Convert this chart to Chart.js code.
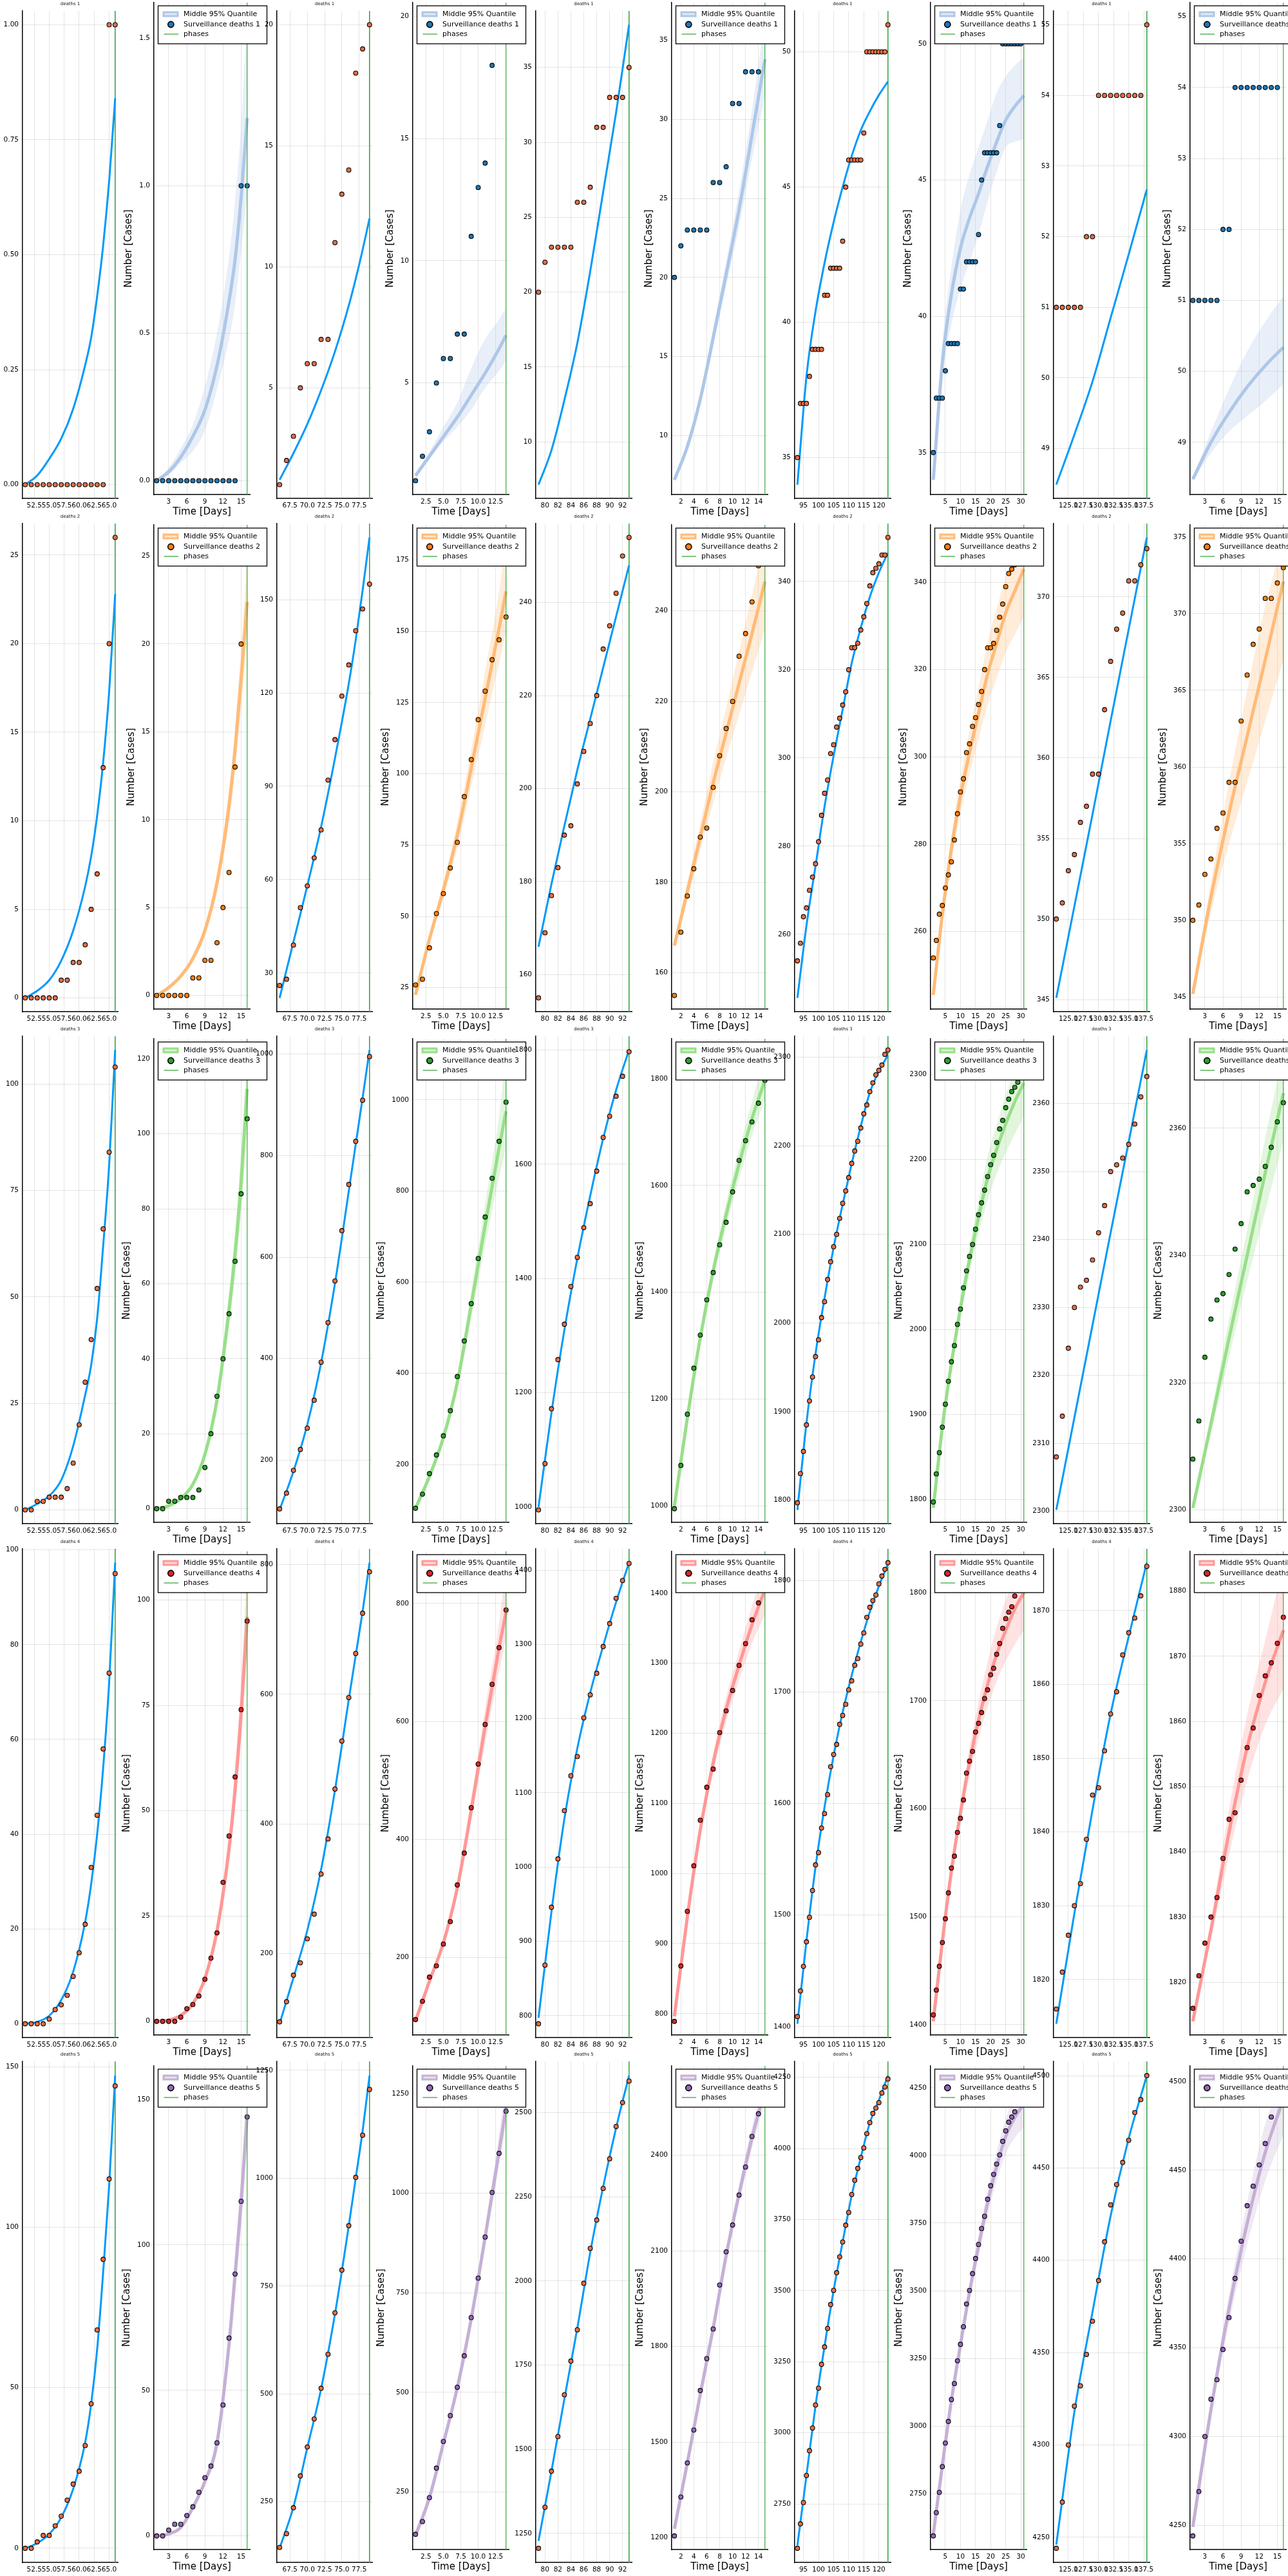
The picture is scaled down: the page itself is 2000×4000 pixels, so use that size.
<!DOCTYPE html>
<html>
<head>
<meta charset="utf-8">
<title>Surveillance deaths by phase</title>
<script src="https://cdn.jsdelivr.net/npm/chart.js@4.4.1/dist/chart.umd.min.js"></script>
<style>
  html, body { margin:0; padding:0; background:#ffffff; }
  body { position:relative; width:2000px; height:4000px; overflow:hidden; }
  canvas { position:absolute; }
</style>
</head>
<body>
<script>
// ================= DATA =================
const phaseFirstDay = [51, 66, 79, 93, 123];
const phaseLastDay  = [66, 79, 93, 123, 138];
const regionNames = ['deaths 1', 'deaths 2', 'deaths 3', 'deaths 4', 'deaths 5'];

// x positions (days) where the fitted curve of each phase was read
const fitX = [
  [51,53,55,57,59,61,62,63,64,65,66],
  [66,68,70,72,74,76,77,78,79],
  [79,81,83,85,87,89,91,93],
  [93,96,99,102,105,108,111,114,117,120,123],
  [123,126,129,132,135,138]
];
// x positions (phase days) where the median / 95% band was read
const medX = [
  [1,3,5,7,9,11,13,14,15,16],
  [1,3,5,7,9,11,13,14],
  [1,3,5,7,9,11,13,15],
  [1,4,7,10,13,16,19,22,25,28,31],
  [1,4,7,10,13,16]
];

// ---- deaths 1 ----
const obs1 = [
  [0,0,0,0,0,0,0,0,0,0,0,0,0,0,1,1],
  [1,2,3,5,6,6,7,7,11,13,14,18,19,20],
  [20,22,23,23,23,23,26,26,27,31,31,33,33,33,35],
  [35,37,37,37,38,39,39,39,39,41,41,42,42,42,42,43,45,46,46,46,46,46,47,50,50,50,50,50,50,50,51],
  [51,51,51,51,51,52,52,54,54,54,54,54,54,54,54,55]
];
const fit1 = [
  [0,0.02,0.056,0.10,0.165,0.26,0.32,0.41,0.52,0.66,0.84],
  [1.2,2.3,3.5,4.9,6.5,8.4,9.5,10.7,12.0],
  [7.15,9.45,12.8,16.6,21.4,26.7,32.0,37.85],
  [34.0,38.0,40.4,42.2,43.7,45.0,46.15,47.1,47.8,48.4,48.9],
  [48.49,49.2,49.95,50.85,51.75,52.67]
];
const med1 = [
  [0,0.03,0.08,0.15,0.24,0.39,0.61,0.75,0.96,1.23],
  [1.2,2.0,2.8,3.6,4.5,5.4,6.4,6.95],
  [7.2,9.3,12.3,16.2,20.2,24.3,29.0,33.8],
  [34.0,38.3,40.8,42.5,43.6,44.5,45.5,46.4,47.2,47.7,48.1],
  [48.48,49.0,49.42,49.78,50.08,50.34]
];
const lo1 = [
  [0,0.02,0.06,0.10,0.17,0.31,0.48,0.6,0.78,0.97],
  [1.1,1.9,2.6,3.2,3.9,4.8,5.5,5.9],
  [7.15,9.1,11.9,15.6,19.4,23.2,27.5,31.5],
  [33.97,37.7,39.7,41.0,42.0,43.0,44.2,45.3,46.2,46.4,46.5],
  [48.46,48.85,49.15,49.37,49.58,49.82]
];
const hi1 = [
  [0,0.045,0.11,0.19,0.32,0.50,0.76,0.95,1.2,1.574],
  [1.3,2.2,3.2,4.2,5.6,6.8,7.6,8.1],
  [7.25,9.5,12.7,16.8,21.0,25.5,30.6,36.5],
  [34.1,39.0,41.8,43.9,45.2,46.2,47.2,48.2,48.8,49.2,49.5],
  [48.5,49.15,49.75,50.28,50.7,51.06]
];

// ---- deaths 2 ----
const obs2 = [
  [0,0,0,0,0,0,1,1,2,2,3,5,7,13,20,26],
  [26,28,39,51,58,67,76,92,105,119,129,140,147,155],
  [155,169,177,183,190,192,201,208,214,220,230,235,242,250,254],
  [254,258,264,266,270,273,276,281,287,292,295,301,303,307,309,312,315,320,325,325,326,329,332,335,339,342,343,344,346,346,350],
  [350,351,353,354,356,357,359,359,363,366,368,369,371,371,372,373]
];
const fit2 = [
  [0,0.4,1.0,2.1,3.8,6.3,8.0,10.3,13.3,17.3,22.8],
  [22,40,58,77,99,123,137,153,170],
  [166,179.5,192,204,215,226,237,248],
  [245.6,262,275.5,289,300.5,311,321.5,329.5,336.5,342,346.5],
  [345.1,350.8,356.5,362.3,368,373.7]
];
const med2 = [
  [0,0.45,1.1,2.1,3.7,6.4,10.8,14.0,18.0,22.4],
  [22.5,42,59.3,78.5,102,126.5,151,164],
  [166,178,190,202,213,224,235,246.5],
  [245.5,264,279,291,301,310,319,326,333,338,343],
  [345.2,351.5,357,362,367,372.1]
];
const lo2 = [
  [0,0.4,1.0,1.9,3.4,5.9,9.9,12.8,16.4,20.3],
  [22.3,40.5,56.5,74,95.5,117,139,150],
  [165.5,176,187,197.5,207.5,217,226.5,236],
  [245.4,262,276,287,296,304,312,318,324,328,332],
  [345.1,350.5,355,359,363,367]
];
const hi2 = [
  [0,0.5,1.2,2.3,4.0,7.0,11.8,15.3,19.8,25.0],
  [22.7,43.5,62,83,108.5,136,164,182.5],
  [166.5,180,193,206.5,218.5,231,243.5,256],
  [245.6,266,282,295,306,316,326,334,341,346,350],
  [345.3,352.5,359,365,370.5,374.9]
];

// ---- deaths 3 ----
const obs3 = [
  [0,0,2,2,3,3,3,5,11,20,30,40,52,66,84,104],
  [104,135,180,221,263,318,393,471,553,652,743,828,909,995],
  [995,1076,1172,1258,1320,1386,1437,1489,1531,1588,1647,1684,1719,1754,1797],
  [1797,1830,1855,1885,1912,1939,1962,1981,2006,2024,2049,2069,2086,2100,2118,2135,2149,2164,2180,2194,2205,2220,2236,2246,2261,2271,2280,2285,2291,2303,2308],
  [2308,2314,2324,2330,2333,2334,2337,2341,2345,2350,2351,2352,2354,2357,2361,2364]
];
const fit3 = [
  [0,1.4,3.3,7,15,27,34,45,62,81,108],
  [102,178,270,392,548,730,822,914,1008],
  [1000,1165,1310,1435,1545,1645,1730,1800],
  [1789,1887,1965,2028,2085,2134,2180,2222,2260,2284,2302],
  [2300.2,2313.8,2327.4,2341,2354.4,2367.9]
];
const med3 = [
  [0,0.8,2.7,6.5,14.5,29,53,68,87,112],
  [104,174,259,380,550,725,895,975],
  [1000,1165,1315,1440,1545,1640,1725,1797],
  [1790,1885,1960,2025,2082,2132,2178,2212,2242,2268,2290],
  [2300.3,2313.5,2327,2340,2353,2365.5]
];
const lo3 = [
  [0,0.7,2.4,5.9,13.2,26.5,48.5,62,79,102],
  [103,170,250,362,520,680,830,895],
  [998,1158,1303,1423,1523,1613,1693,1760],
  [1789,1880,1952,2013,2066,2112,2152,2183,2208,2230,2250],
  [2300.2,2312,2324,2336,2347,2358]
];
const hi3 = [
  [0,0.9,3.0,7.2,16,32,58,74.5,95.5,121.7],
  [105,178,268,398,580,772,965,1104],
  [1002,1172,1327,1457,1567,1667,1757,1849],
  [1791,1890,1968,2037,2098,2152,2204,2241,2276,2304,2326],
  [2300.4,2315,2330,2344,2358.5,2371.9]
];

// ---- deaths 4 ----
const obs4 = [
  [0,0,0,0,1,3,4,6,10,15,21,33,44,58,74,95],
  [95,126,167,186,223,261,323,377,454,528,595,663,725,789],
  [789,868,946,1011,1076,1123,1149,1201,1232,1261,1297,1328,1362,1386,1409],
  [1409,1432,1454,1476,1498,1522,1545,1556,1578,1591,1608,1633,1644,1653,1671,1679,1689,1702,1710,1724,1730,1743,1753,1767,1776,1782,1787,1797,1804,1810,1816],
  [1816,1821,1826,1830,1833,1839,1845,1846,1851,1856,1859,1864,1867,1869,1872,1876]
];
const fit4 = [
  [0,0.4,1.7,5,11,21.5,29.5,40,54,72,97.3],
  [92,163,236,330,452,592,660,728,803],
  [797,940,1065,1160,1235,1298,1357,1410],
  [1402.5,1477,1543,1597,1643,1682,1715,1745,1772,1795,1815],
  [1814,1829,1843,1856,1866.5,1876.5]
];
const med4 = [
  [0,0.3,1.4,4.2,10.2,21.5,41,55,73,96],
  [93,160,225,318,450,592,725,785],
  [796,938,1062,1158,1234,1297,1355,1405],
  [1403,1477,1542,1596,1643,1682,1715,1743,1765,1785,1800],
  [1814,1828,1843,1856,1866,1874]
];
const lo4 = [
  [0,0.25,1.2,3.8,9.3,19.6,37.5,50.5,67,87],
  [92,156,218,306,430,562,685,740],
  [794,932,1052,1144,1216,1276,1328,1370],
  [1403,1474,1536,1587,1630,1665,1694,1718,1737,1752,1765],
  [1814,1826.5,1839.5,1851,1859.5,1865]
];
const hi4 = [
  [0,0.35,1.6,4.7,11.2,23.6,45,60.5,81,108.3],
  [94,164,233,330,470,622,768,865],
  [798,944,1072,1172,1252,1318,1382,1440],
  [1404,1480,1548,1605,1656,1699,1736,1768,1793,1812,1825.6],
  [1814.1,1829.5,1846.5,1861,1872.5,1884]
];

// ---- deaths 5 ----
const obs5 = [
  [0,0,2,4,4,7,10,15,20,24,32,45,68,90,115,144],
  [144,176,236,310,377,442,513,592,688,787,890,1002,1100,1206],
  [1206,1328,1435,1538,1662,1762,1855,1993,2097,2181,2275,2363,2459,2530,2594],
  [2594,2680,2755,2850,2937,3017,3098,3157,3241,3302,3367,3451,3501,3563,3619,3671,3730,3775,3838,3888,3930,3968,4002,4052,4091,4123,4142,4161,4195,4216,4244],
  [4244,4269,4300,4321,4332,4349,4367,4389,4410,4430,4441,4453,4465,4480,4487,4500]
];
const fit5 = [
  [0,1.6,4.4,9.6,18.5,33,45,62,86,113,147.2],
  [142,238,375,512,685,890,1000,1110,1238],
  [1228,1435,1650,1860,2085,2280,2455,2610],
  [2604,2850,3095,3305,3500,3672,3835,3968,4090,4170,4256],
  [4246,4318,4372,4424,4466,4500]
];
const med5 = [
  [0,0.7,2.9,9.7,18.7,32,66,89.8,114.7,144.6],
  [141,236,372,512,685,890,1105,1215],
  [1228,1435,1650,1858,2085,2278,2455,2605],
  [2600,2855,3095,3300,3495,3665,3825,3960,4070,4140,4190],
  [4249,4315,4372,4420,4460,4490]
];
const lo5 = [
  [0,0.6,2.6,8.9,17.2,29.5,61,83,106,134],
  [140,232,364,500,668,866,1070,1170],
  [1226,1428,1638,1840,2062,2250,2420,2570],
  [2598,2845,3078,3276,3464,3627,3780,3905,4005,4065,4105],
  [4248.5,4311,4364,4408,4444,4470]
];
const hi5 = [
  [0,0.8,3.2,10.5,20.2,34.5,71,97,124,156.8],
  [142,240,380,524,702,915,1145,1285],
  [1230,1442,1662,1876,2108,2306,2490,2637],
  [2602,2865,3112,3324,3526,3703,3870,4015,4135,4215,4280],
  [4249.5,4319,4380,4432,4476,4501]
];

// tick spacing (tick labels) per panel, left to right
const yStep1 = [0.25, 0.5, 5, 5, 5, 5, 5, 5, 1, 1];
const yStep2 = [5, 5, 30, 25, 20, 20, 20, 20, 5, 5];
const yStep3 = [25, 20, 200, 200, 200, 200, 100, 100, 10, 20];
const yStep4 = [20, 25, 200, 200, 100, 100, 100, 100, 10, 10];
const yStep5 = [50, 50, 250, 250, 250, 300, 250, 250, 50, 50];
const xStepOdd  = [2.5, 2.5, 2, 5, 2.5];
const xStepEven = [3, 2.5, 2, 5, 3];

// ================= LAYOUT / STYLE =================
const plotLeft  = [35, 239, 430, 641, 832, 1043, 1234, 1445, 1636, 1848];
const plotRight = [183, 388, 578, 790, 981, 1192, 1383, 1594, 1785, 1997];
const oddTop = [17, 813, 1609, 2405, 3201], oddBottom = [774, 1571, 2366, 3164, 3979];
const evenTop = [4, 815, 1613, 2409, 3208], evenBottom = [768, 1567, 2364, 3160, 3959];

const FIT_COLOR = '#009af9', OBS_COLOR = '#e26f46', PHASE_ODD = '#3da44d', PHASE_EVEN = '#2ca02c';
const dotColor  = ['#1f77b4', '#ff7f0e', '#2ca02c', '#d62728', '#9467bd'];
const bandLine  = ['#aec7e8', '#ffbb78', '#98df8a', '#ff9896', '#c5b0d5'];
const bandFill  = ['rgba(174,199,232,0.28)', 'rgba(255,187,120,0.28)', 'rgba(152,223,138,0.28)',
                   'rgba(255,152,150,0.28)', 'rgba(197,176,213,0.28)'];

const obsAll = [obs1, obs2, obs3, obs4, obs5];
const fitAll = [fit1, fit2, fit3, fit4, fit5];
const medAll = [med1, med2, med3, med4, med5];
const loAll  = [lo1, lo2, lo3, lo4, lo5];
const hiAll  = [hi1, hi2, hi3, hi4, hi5];
const yStepAll = [yStep1, yStep2, yStep3, yStep4, yStep5];

Chart.defaults.font.family = '"DejaVu Sans", sans-serif';
Chart.defaults.color = '#000';

const FONT = '"DejaVu Sans", sans-serif';
const TICK_SIZE = 10.5;

function tickList(min, max, step) {
  const out = [];
  const k0 = Math.ceil(min / step - 1e-9), k1 = Math.floor(max / step + 1e-9);
  for (let k = k0; k <= k1; k++) out.push(+(k * step).toFixed(6));
  return out;
}
function decimals(step) {
  const s = String(step);
  return s.indexOf('.') >= 0 ? s.split('.')[1].length : 0;
}
function widen(lo, hi) {
  const span = hi - lo;
  return [lo - 0.03 * span, hi + 0.03 * span];
}

const decor = {
  id: 'decor',
  afterDraw(chart, args, o) {
    const ctx = chart.ctx, a = chart.chartArea;
    ctx.save();
    if (o.title) {
      ctx.font = '7px ' + FONT;
      ctx.fillStyle = '#111';
      ctx.textAlign = 'center';
      ctx.textBaseline = 'middle';
      ctx.fillText(o.title, (a.left + a.right) / 2, a.top - 11);
    }
    if (o.ylabel) {
      ctx.font = TICK_SIZE + 'px ' + FONT;
      let w = 0;
      chart.scales.y.ticks.forEach(t => { w = Math.max(w, ctx.measureText(String(t.label)).width); });
      const x = a.left - 6 - w - 16;
      ctx.save();
      ctx.translate(x, (a.top + a.bottom) / 2);
      ctx.rotate(-Math.PI / 2);
      ctx.font = '15px ' + FONT;
      ctx.fillStyle = '#000';
      ctx.textAlign = 'center';
      ctx.textBaseline = 'middle';
      ctx.fillText(o.ylabel, 0, 0);
      ctx.restore();
    }
    if (o.legend) {
      const L = o.legend;
      const bx = a.left + 6.5, by = a.top + 5, bw = 169, bh = 59;
      ctx.fillStyle = '#fff';
      ctx.fillRect(bx, by, bw, bh);
      ctx.lineWidth = 1.3;
      ctx.strokeStyle = '#000';
      ctx.strokeRect(bx, by, bw, bh);
      const y1 = by + 13, y2 = by + 29, y3 = by + 44;
      ctx.fillStyle = L.band;
      ctx.fillRect(bx + 7, y1 - 4.5, 25, 9);
      ctx.fillStyle = 'rgba(255,255,255,0.6)';
      ctx.fillRect(bx + 10, y1 - 1.5, 19, 3);
      ctx.beginPath();
      ctx.arc(bx + 19.8, y2, 4.6, 0, Math.PI * 2);
      ctx.fillStyle = L.dot;
      ctx.fill();
      ctx.lineWidth = 1.6;
      ctx.strokeStyle = '#000';
      ctx.stroke();
      ctx.beginPath();
      ctx.moveTo(bx + 9, y3);
      ctx.lineTo(bx + 31.5, y3);
      ctx.strokeStyle = PHASE_EVEN;
      ctx.lineWidth = 1.2;
      ctx.stroke();
      ctx.fillStyle = '#000';
      ctx.font = '11px ' + FONT;
      ctx.textAlign = 'left';
      ctx.textBaseline = 'middle';
      ctx.fillText('Middle 95% Quantile', bx + 39.5, y1);
      ctx.fillText(L.name, bx + 39.5, y2);
      ctx.fillText('phases', bx + 39.5, y3);
    }
    ctx.restore();
  }
};

function makePanel(r, c) {
  const p = Math.floor(c / 2);
  const odd = (c % 2 === 0);          // panels with title (calendar days)
  const L = plotLeft[c], R = plotRight[c];
  const T = odd ? oddTop[r] : evenTop[r];
  const B = odd ? oddBottom[r] : evenBottom[r];
  const padL = 5, yW = 65, padT = 25, padR = 40, xH = 40, padB = 5;
  const cw = padL + yW + (R - L) + padR;
  const ch = padT + (B - T) + xH + padB;

  const cv = document.createElement('canvas');
  cv.width = cw; cv.height = ch;
  cv.style.width = cw + 'px'; cv.style.height = ch + 'px';
  cv.style.left = (L - padL - yW) + 'px';
  cv.style.top = (T - padT) + 'px';
  document.body.appendChild(cv);

  const obs = obsAll[r][p];
  const n = obs.length;
  const d0 = odd ? phaseFirstDay[p] : 1;
  const dN = odd ? phaseLastDay[p] : n;
  const obsPts = obs.map((v, i) => ({ x: d0 + i, y: v }));

  let allY = obs.slice();
  const datasets = [];
  if (odd) {
    const fit = fitAll[r][p];
    allY = allY.concat(fit);
    const [ymin, ymax] = widen(Math.min(...allY), Math.max(...allY));
    datasets.push({ label: 'observed', data: obsPts, showLine: false, pointRadius: 3.4,
      pointBackgroundColor: OBS_COLOR, pointBorderColor: '#000', pointBorderWidth: 1.1, order: 0 });
    datasets.push({ label: 'fit', data: fitX[p].map((x, i) => ({ x: x, y: fit[i] })),
      borderColor: FIT_COLOR, borderWidth: 3, pointRadius: 0, cubicInterpolationMode: 'monotone', order: 1 });
    datasets.push({ label: 'phase end', data: [{ x: dN, y: ymin }, { x: dN, y: ymax }],
      borderColor: PHASE_ODD, borderWidth: 1.6, pointRadius: 0, order: 2 });
    build(ymin, ymax);
  } else {
    const med = medAll[r][p], lo = loAll[r][p], hi = hiAll[r][p];
    allY = allY.concat(med, lo, hi);
    const [ymin, ymax] = widen(Math.min(...allY), Math.max(...allY));
    datasets.push({ label: 'lower', data: medX[p].map((x, i) => ({ x: x, y: lo[i] })),
      borderWidth: 0, borderColor: 'rgba(0,0,0,0)', pointRadius: 0, fill: false,
      cubicInterpolationMode: 'monotone', order: 4 });
    datasets.push({ label: 'upper', data: medX[p].map((x, i) => ({ x: x, y: hi[i] })),
      borderWidth: 0, borderColor: 'rgba(0,0,0,0)', pointRadius: 0, fill: '-1', backgroundColor: bandFill[r],
      cubicInterpolationMode: 'monotone', order: 3 });
    datasets.push({ label: 'Middle 95% Quantile', data: medX[p].map((x, i) => ({ x: x, y: med[i] })),
      borderColor: bandLine[r], borderWidth: 5, pointRadius: 0, cubicInterpolationMode: 'monotone', order: 2 });
    datasets.push({ label: 'Surveillance ' + regionNames[r], data: obsPts, showLine: false, pointRadius: 3.4,
      pointBackgroundColor: dotColor[r], pointBorderColor: '#000', pointBorderWidth: 1.1, order: 1 });
    datasets.push({ label: 'phases', data: [{ x: dN, y: ymin }, { x: dN, y: ymax }],
      borderColor: PHASE_EVEN, borderWidth: 1.1, pointRadius: 0, order: 0 });
    build(ymin, ymax);
  }

  function build(ymin, ymax) {
    const [xmin, xmax] = widen(d0, dN);
    const xs = odd ? xStepOdd[p] : xStepEven[p];
    const ys = yStepAll[r][c];
    const xt = tickList(xmin, xmax, xs), yt = tickList(ymin, ymax, ys);
    const xd = decimals(xs), yd = decimals(ys);
    new Chart(cv, {
      type: 'line',
      data: { datasets: datasets },
      plugins: [decor],
      options: {
        responsive: false,
        maintainAspectRatio: false,
        animation: false,
        devicePixelRatio: 1,
        events: [],
        layout: { padding: { left: padL, top: padT, right: padR, bottom: padB } },
        plugins: {
          legend: { display: false },
          tooltip: { enabled: false },
          decor: {
            title: odd ? regionNames[r] : null,
            ylabel: odd ? null : 'Number [Cases]',
            legend: odd ? null : { band: bandLine[r], dot: dotColor[r], name: 'Surveillance ' + regionNames[r] }
          }
        },
        scales: {
          x: {
            type: 'linear', min: xmin, max: xmax,
            afterBuildTicks: s => { s.ticks = xt.map(v => ({ value: v })); },
            afterFit: s => { s.height = xH; },
            ticks: { autoSkip: false, maxRotation: 0, minRotation: 0, padding: 5, color: '#000',
              font: { size: TICK_SIZE }, callback: v => Number(v).toFixed(xd) },
            grid: { color: 'rgba(0,0,0,0.1)', lineWidth: 1, drawTicks: false },
            border: { display: true, color: '#000', width: 1.5 },
            title: { display: !odd, text: 'Time [Days]', color: '#000', font: { size: 15 },
              padding: { top: 0, bottom: 4 } }
          },
          y: {
            type: 'linear', min: ymin, max: ymax,
            afterBuildTicks: s => { s.ticks = yt.map(v => ({ value: v })); },
            afterFit: s => { s.width = yW; },
            ticks: { autoSkip: false, padding: 6, color: '#000', font: { size: TICK_SIZE },
              callback: v => Number(v).toFixed(yd) },
            grid: { color: 'rgba(0,0,0,0.1)', lineWidth: 1, drawTicks: false },
            border: { display: true, color: '#000', width: 1.5 }
          }
        }
      }
    });
  }
}

for (let r = 0; r < 5; r++) {
  for (let c = 0; c < 10; c++) makePanel(r, c);
}
</script>
</body>
</html>
